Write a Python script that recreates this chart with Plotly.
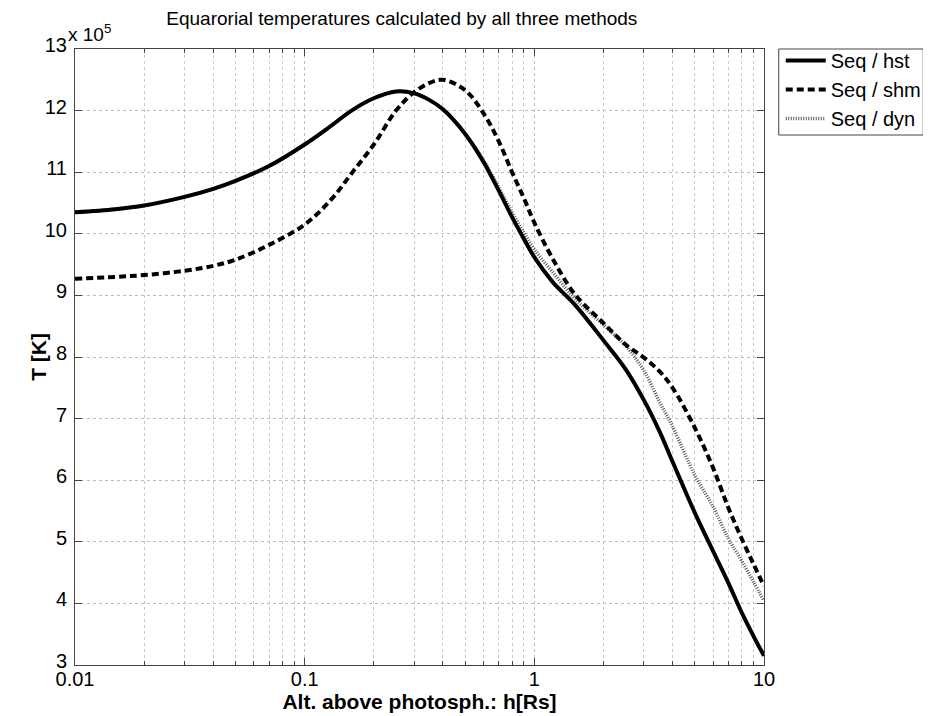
import plotly.graph_objects as go

# altitude above photosphere h [Rs]
h = [0.01, 0.015, 0.02, 0.03, 0.04, 0.05, 0.07, 0.1, 0.13, 0.16, 0.2, 0.25, 0.3, 0.35, 0.4,
     0.5, 0.6, 0.7, 0.8, 0.9, 1.0, 1.2, 1.5, 2, 2.5, 3, 3.5, 4, 5, 6, 7, 8, 9, 10]

# temperatures in units of 1e5 K
T_hst = [10.35, 10.40, 10.46, 10.60, 10.73, 10.86, 11.10, 11.45, 11.75, 12.00, 12.20, 12.31, 12.28, 12.17, 12.02,
         11.62, 11.17, 10.70, 10.27, 9.92, 9.62, 9.22, 8.85, 8.27, 7.80, 7.30, 6.80, 6.30, 5.47, 4.85, 4.33, 3.85, 3.47, 3.15]
T_shm = [9.27, 9.30, 9.33, 9.40, 9.48, 9.58, 9.82, 10.15, 10.55, 10.98, 11.45, 12.00, 12.30, 12.45, 12.50,
         12.33, 11.96, 11.50, 11.00, 10.58, 10.18, 9.60, 9.02, 8.55, 8.20, 7.99, 7.77, 7.50, 6.85, 6.20, 5.55, 5.05, 4.64, 4.28]
T_dyn = [10.35, 10.40, 10.46, 10.60, 10.73, 10.86, 11.10, 11.45, 11.75, 12.00, 12.20, 12.31, 12.28, 12.17, 12.02,
         11.62, 11.20, 10.75, 10.35, 10.02, 9.75, 9.38, 8.95, 8.52, 8.18, 7.78, 7.28, 6.87, 6.08, 5.57, 5.05, 4.69, 4.35, 4.04]

names = ["Seq / hst", "Seq / shm", "Seq / dyn"]
title = "Equarorial temperatures calculated by all three methods"
x_ticks = [0.01, 0.1, 1, 10]
x_tick_text = ["0.01", "0.1", "1", "10"]
y_ticks = [3, 4, 5, 6, 7, 8, 9, 10, 11, 12, 13]

minor_vals = [m * d for d in [0.01, 0.1, 1] for m in range(2, 10)]

FONT = "Liberation Sans, Arial, sans-serif"

fig = go.Figure()
fig.add_trace(go.Scatter(x=h, y=T_dyn, name=names[2], mode="lines", legendrank=3,
                         line=dict(color="#555555", width=3.5, dash="1px,1.5px", shape="spline", smoothing=1.0)))
fig.add_trace(go.Scatter(x=h, y=T_hst, name=names[0], mode="lines", legendrank=1,
                         line=dict(color="black", width=4, shape="spline", smoothing=1.0)))
fig.add_trace(go.Scatter(x=h, y=T_shm, name=names[1], mode="lines", legendrank=2,
                         line=dict(color="black", width=4, dash="7px,4px", shape="spline", smoothing=1.0)))

axis_common = dict(
    showline=True, linecolor="#444444", linewidth=1, mirror="ticks",
    ticks="inside", ticklen=7, tickcolor="#444444",
    showgrid=True, gridcolor="#bdbdbd", griddash="dot", gridwidth=1,
    zeroline=False, automargin=False,
    tickfont=dict(family=FONT, size=20, color="black"),
)

fig.update_xaxes(type="log", range=[-2, 1], tickvals=x_ticks, ticktext=x_tick_text,
                 ticklabelstandoff=-4,
                 title=dict(text="<b>Alt. above photosph.: h[Rs]</b>", font=dict(family=FONT, size=21, color="black"), standoff=5),
                 minor=dict(tickvals=minor_vals, showgrid=True, gridcolor="#c8c8c8", griddash="dot",
                            ticks="inside", ticklen=4, tickcolor="#444444"),
                 **axis_common)
fig.update_yaxes(range=[3, 13], tickvals=y_ticks, ticklabelstandoff=3, ticklabelshift=-4, **axis_common)

# y-axis title
fig.add_annotation(text="<b>T [K]</b>", xref="paper", yref="paper", x=-0.054, y=0.5,
                   xanchor="center", yanchor="middle", textangle=-90, showarrow=False,
                   font=dict(family=FONT, size=21, color="black"))

# exponent label
fig.add_annotation(text="x 10<sup>5</sup>", xref="paper", yref="paper", x=0.0, y=1.0,
                   xanchor="left", yanchor="bottom", showarrow=False, xshift=-9, yshift=2,
                   font=dict(family=FONT, size=19, color="black"))

# legend frame
fig.add_shape(type="rect", xref="paper", yref="paper", x0=1.0214, x1=1.2311, y0=1.0 - 86 / 616, y1=1.0,
              line=dict(color="#444444", width=1), fillcolor="white", layer="below")

fig.update_layout(
    width=931, height=716,
    margin=dict(l=67, r=163, t=41, b=59),
    paper_bgcolor="white", plot_bgcolor="white",
    title=dict(text=title, x=0.423, xanchor="center", y=0.986, yanchor="middle",
               font=dict(family=FONT, size=19, color="black")),
    legend=dict(x=1.0243, y=1.0 + 8 / 616, xanchor="left", yanchor="top",
                borderwidth=0, bgcolor="rgba(0,0,0,0)",
                font=dict(family=FONT, size=20, color="black"),
                itemwidth=40, tracegroupgap=0),
    showlegend=True,
)

fig.write_html("out.html")
